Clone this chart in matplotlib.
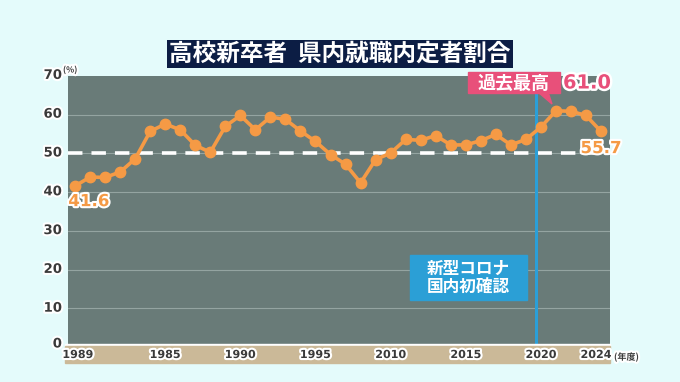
import numpy as np
import matplotlib
matplotlib.use("Agg")
import matplotlib.pyplot as plt
import matplotlib.patheffects as pe
from matplotlib.patches import Rectangle, Polygon

plt.rcParams['font.family'] = ['Noto Sans CJK JP', 'DejaVu Sans']

# data: share of new high-school graduates getting jobs inside the prefecture (%)
years = list(range(1989, 2025))
share = [41.6, 43.9, 43.8, 45.2, 48.6, 55.7, 57.6, 56.1, 52.1, 50.3,
         57.0, 59.8, 56.1, 59.4, 58.8, 55.8, 53.1, 49.7, 47.2, 42.4,
         48.4, 50.1, 53.6, 53.4, 54.6, 52.2, 52.2, 53.3, 54.9, 52.2,
         53.6, 56.8, 61.0, 60.9, 59.8, 55.7]
xtick_pos = [1989, 1995, 2000, 2005, 2010, 2015, 2020, 2024]
xtick_labels = ["1989", "1985", "1990", "1995", "2010", "2015", "2020", "2024"]
ytick_vals = [0, 10, 20, 30, 40, 50, 60, 70]
ref_level = 50
covid_year = 2019.7
record_year = 2021

title = "高校新卒者  県内就職内定者割合"

W, H = 680, 382
fig = plt.figure(figsize=(W / 100, H / 100), dpi=100)
fig.patch.set_facecolor("#e4fbfb")

def fx(px):
    return px / W

def fy(py):
    return 1 - py / H

ax = fig.add_axes([fx(68), fy(347), fx(610) - fx(68), fy(76) - fy(347)])
ax.set_facecolor("#697b78")
ax.set_xlim(1988.53, 2024.6)
ax.set_ylim(0, 70)
for s in ax.spines.values():
    s.set_visible(False)
ax.set_xticks([])
ax.set_yticks([])

# gridlines
for v in ytick_vals[1:-1]:
    ax.axhline(v, color="#94a4a1", lw=0.8, zorder=1)
ax.axhline(ref_level, color="white", lw=2.6, dashes=(4, 2.5), zorder=2)

# covid line
ax.axvline(covid_year, color="#2b9fd8", lw=2.2, zorder=3)

orange = "#f59a45"
ax.plot(years, share, color=orange, lw=2.6, marker="o", ms=7.5, zorder=4)

stroke = [pe.withStroke(linewidth=3, foreground="white")]

# y tick labels
for v in ytick_vals:
    yp = 347 - v * 3.88
    if v == 0:
        yp -= 3
    fig.text(fx(62), fy(yp), str(v), ha="right", va="center",
             fontsize=9.5, fontweight="bold", color="#3a3a3a",
             family="DejaVu Sans", path_effects=stroke)
fig.text(fx(63), fy(70), "(%)", ha="left", va="center", fontsize=6,
         fontweight="bold", color="#3a3a3a", path_effects=stroke)

# tan x band
fig.patches.append(Rectangle((fx(65), fy(346)), fx(610) - fx(65), fy(344) - fy(346),
                             transform=fig.transFigure, color="white", zorder=0))
fig.patches.append(Rectangle((fx(65), fy(363)), fx(610) - fx(65), fy(346) - fy(363),
                             transform=fig.transFigure, color="#cbb998", zorder=0))
for yr, lab in zip(xtick_pos, xtick_labels):
    xp = 75 + 15.03 * (yr - 1989)
    if yr == xtick_pos[0]:
        xp += 3
    if yr == xtick_pos[-1]:
        xp -= 5
    fig.text(fx(xp), fy(355), lab, ha="center", va="center", fontsize=8,
             fontweight="bold", color="#3a3a3a", family="DejaVu Sans",
             path_effects=stroke)
fig.text(fx(614), fy(357), "(年度)", ha="left", va="center", fontsize=6.5,
         fontweight="bold", color="#3a3a3a", path_effects=stroke)

# title
fig.text(0.5 * (fx(160) + fx(520)), fy(54), title, ha="center", va="center",
         fontsize=17, fontweight="bold", color="white",
         bbox=dict(boxstyle="square,pad=0.1", fc="#0c1d44", ec="none"))

# value labels
ax.text(years[0] - 0.45, share[0] - 1.6, f"{share[0]:.1f}", ha="left", va="top",
        fontsize=12, fontweight="bold", color=orange, family="DejaVu Sans",
        path_effects=stroke, zorder=6)
ax.text(years[-1], share[-1] - 2.0, f"{share[-1]:.1f}", ha="center", va="top",
        fontsize=12, fontweight="bold", color=orange, family="DejaVu Sans",
        path_effects=stroke, zorder=6)

# record callout
pink = "#e8507a"
rec = share[years.index(record_year)]
fig.patches.append(Rectangle((fx(468), fy(93)), fx(560) - fx(468), fy(72) - fy(93),
                             transform=fig.transFigure, color=pink, zorder=5))
fig.patches.append(Polygon([(fx(538), fy(92)), (fx(548), fy(92)), (fx(552), fy(104))],
                           closed=True, transform=fig.transFigure, color=pink, zorder=5))
fig.text(fx(514), fy(83), "過去最高", ha="center", va="center", fontsize=13,
         fontweight="bold", color="white", zorder=6)
fig.text(fx(563), fy(83), f"{rec:.1f}", ha="left", va="center", fontsize=14,
         fontweight="bold", color=pink, family="DejaVu Sans",
         path_effects=[pe.withStroke(linewidth=3.5, foreground="white")], zorder=6)

# covid note
fig.patches.append(Rectangle((fx(410), fy(300)), fx(527) - fx(410), fy(255) - fy(300),
                             transform=fig.transFigure, color="#2b9fd6", zorder=5))
fig.text(fx(468), fy(278), "新型コロナ\n国内初確認", ha="center", va="center",
         fontsize=12, fontweight="bold", color="white", linespacing=1.05, zorder=6)

fig.savefig("out.png", dpi=100, facecolor=fig.get_facecolor())
